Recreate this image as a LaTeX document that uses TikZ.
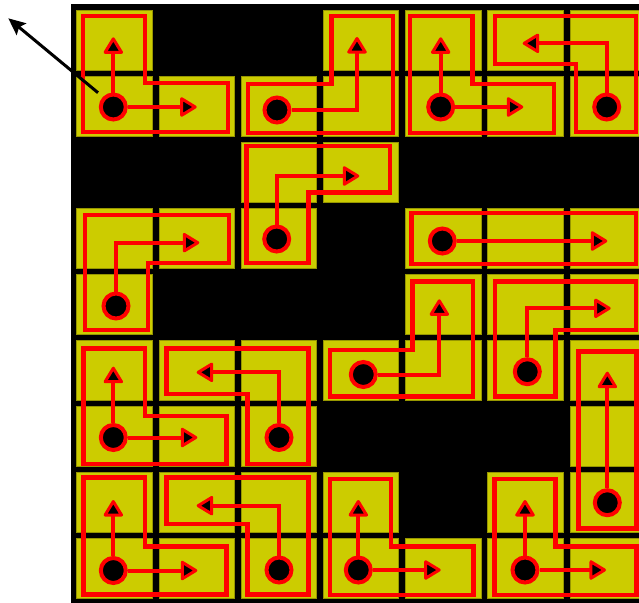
\documentclass[tikz,border=0pt]{standalone}
\usetikzlibrary{arrows.meta}
\definecolor{celly}{RGB}{204,204,0}
\definecolor{cellb}{RGB}{150,150,0}
\begin{document}
\begin{tikzpicture}[x=1pt,y=-1pt,
  cell/.style={fill=celly, draw=cellb, line width=0.8pt},
  outline/.style={draw=red, line width=4.5pt, miter limit=10},
  flow/.style={draw=red, line width=4pt, -{Triangle[length=18pt,width=21pt,fill=black,round,line width=3pt]}},
  dot/.style={circle, fill=black, draw=red, line width=4pt, minimum size=25pt, inner sep=0pt},
  pointer/.style={draw=black, line width=3pt, -{Stealth[length=17pt,width=15pt,inset=3pt]}}
]
\useasboundingbox (0,0) rectangle (639,602);
\clip (0,0) rectangle (639,602);
\fill[black] (71,4) rectangle (650,610);
% yellow cells
\foreach \r/\c in {0/0,0/3,0/4,0/5,0/6,
  1/0,1/1,1/2,1/3,1/4,1/5,1/6,
  2/2,2/3,
  3/0,3/1,3/2,3/4,3/5,3/6,
  4/0,4/4,4/5,4/6,
  5/0,5/1,5/2,5/3,5/4,5/5,5/6,
  6/0,6/1,6/2,6/6,
  7/0,7/1,7/2,7/3,7/5,7/6,
  8/0,8/1,8/2,8/3,8/4,8/5,8/6}{
  \path[cell] ({76.7+82.2*\c},{10+66.1*\r}) rectangle ++(75.5,60);
}
% piece outlines
\draw[outline] (83,16) -- (145,16) -- (145,83) -- (228,83) -- (228,132) -- (83,132) -- cycle;
\draw[outline] (248,84) -- (331.7,84) -- (331.7,16) -- (393,16) -- (393,133) -- (248,133) -- cycle;
\draw[outline] (410,16) -- (472.7,16) -- (472.7,84) -- (554,84) -- (554,133) -- (410,133) -- cycle;
\draw[outline] (495,16) -- (636,16) -- (636,132) -- (576,132) -- (576,64) -- (495,64) -- cycle;
\draw[outline] (246.7,146) -- (390,146) -- (390,192.7) -- (308.3,192.7) -- (308.3,263) -- (246.7,263) -- cycle;
\draw[outline] (85,215) -- (229,215) -- (229,263) -- (148,263) -- (148,330) -- (85,330) -- cycle;
\draw[outline] (411.7,213) -- (636,213) -- (636,264) -- (411.7,264) -- cycle;
\draw[outline] (412.7,281.7) -- (473,281.7) -- (473,396.7) -- (330,396.7) -- (330,350) -- (412.7,350) -- cycle;
\draw[outline] (495,281.7) -- (636,281.7) -- (636,330) -- (555.5,330) -- (555.5,396.7) -- (495,396.7) -- cycle;
\draw[outline] (578.3,351.7) -- (636.7,351.7) -- (636.7,528.3) -- (578.3,528.3) -- cycle;
\draw[outline] (83.3,348.3) -- (145,348.3) -- (145,416) -- (226.7,416) -- (226.7,464) -- (83.3,464) -- cycle;
\draw[outline] (166.7,348.3) -- (308.3,348.3) -- (308.3,464) -- (247.7,464) -- (247.7,394) -- (166.7,394) -- cycle;
\draw[outline] (83.3,477.7) -- (145,477.7) -- (145,546.7) -- (226.7,546.7) -- (226.7,594.3) -- (83.3,594.3) -- cycle;
\draw[outline] (166.7,477.7) -- (308.3,477.7) -- (308.3,594.3) -- (247.7,594.3) -- (247.7,524) -- (166.7,524) -- cycle;
\draw[outline] (330,479) -- (391,479) -- (391,546.7) -- (473.3,546.7) -- (473.3,595) -- (330,595) -- cycle;
\draw[outline] (494.3,479) -- (555.7,479) -- (555.7,546.7) -- (636.7,546.7) -- (636.7,595) -- (494.3,595) -- cycle;
% dots
\node[dot] (dA) at (113.3,107) {};
\node[dot] (dB) at (277,110) {};
\node[dot] (dC) at (440.7,107) {};
\node[dot] (dD) at (606.7,107) {};
\node[dot] (dE) at (276.7,239) {};
\node[dot] (dF) at (116,306) {};
\node[dot] (dG) at (442.3,241) {};
\node[dot] (dH) at (363.3,374.5) {};
\node[dot] (dI) at (527.3,371.7) {};
\node[dot] (dJ) at (607.3,502.7) {};
\node[dot] (dK) at (113.3,437.5) {};
\node[dot] (dL) at (279,437.5) {};
\node[dot] (dM) at (113.3,570.5) {};
\node[dot] (dN) at (279,570) {};
\node[dot] (dO) at (358.3,570) {};
\node[dot] (dP) at (525,570) {};
% bends and tips
\coordinate (tAu) at (113.3,37.3); \coordinate (tAr) at (196.7,107);
\coordinate (bB) at (357,110);     \coordinate (tB) at (357,37);
\coordinate (tCu) at (440.7,37.3); \coordinate (tCr) at (523.3,107);
\coordinate (bD) at (606.7,43.3);  \coordinate (tD) at (522.7,43.3);
\coordinate (bE) at (276.7,176);   \coordinate (tE) at (359.3,176);
\coordinate (bF) at (116,242.7);   \coordinate (tF) at (199.3,242.7);
\coordinate (tG) at (607.3,241);
\coordinate (bH) at (439.3,374.5); \coordinate (tH) at (439.3,299.3);
\coordinate (bI) at (527.3,308.3); \coordinate (tI) at (610.7,308.3);
\coordinate (tJ) at (607.3,371.7);
\coordinate (tKu) at (113.3,366.7); \coordinate (tKr) at (197.3,437.5);
\coordinate (bL) at (279,372.3);   \coordinate (tL) at (196.7,372.3);
\coordinate (tMu) at (113.3,500);  \coordinate (tMr) at (197.3,570.5);
\coordinate (bN) at (279,505.7);   \coordinate (tN) at (196.7,505.7);
\coordinate (tOu) at (358.3,500);  \coordinate (tOr) at (440.7,570);
\coordinate (tPu) at (525,500);    \coordinate (tPr) at (606,570);
% flows
\draw[flow] (dA) -- (tAu); \draw[flow] (dA) -- (tAr);
\draw[flow] (dB) -- (bB) -- (tB);
\draw[flow] (dC) -- (tCu); \draw[flow] (dC) -- (tCr);
\draw[flow] (dD) -- (bD) -- (tD);
\draw[flow] (dE) -- (bE) -- (tE);
\draw[flow] (dF) -- (bF) -- (tF);
\draw[flow] (dG) -- (tG);
\draw[flow] (dH) -- (bH) -- (tH);
\draw[flow] (dI) -- (bI) -- (tI);
\draw[flow] (dJ) -- (tJ);
\draw[flow] (dK) -- (tKu); \draw[flow] (dK) -- (tKr);
\draw[flow] (dL) -- (bL) -- (tL);
\draw[flow] (dM) -- (tMu); \draw[flow] (dM) -- (tMr);
\draw[flow] (dN) -- (bN) -- (tN);
\draw[flow] (dO) -- (tOu); \draw[flow] (dO) -- (tOr);
\draw[flow] (dP) -- (tPu); \draw[flow] (dP) -- (tPr);
% pointer arrow
\coordinate (ptail) at (98,92.7);
\coordinate (phead) at (8.3,18.3);
\draw[pointer] (ptail) -- (phead);
\end{tikzpicture}
\end{document}
